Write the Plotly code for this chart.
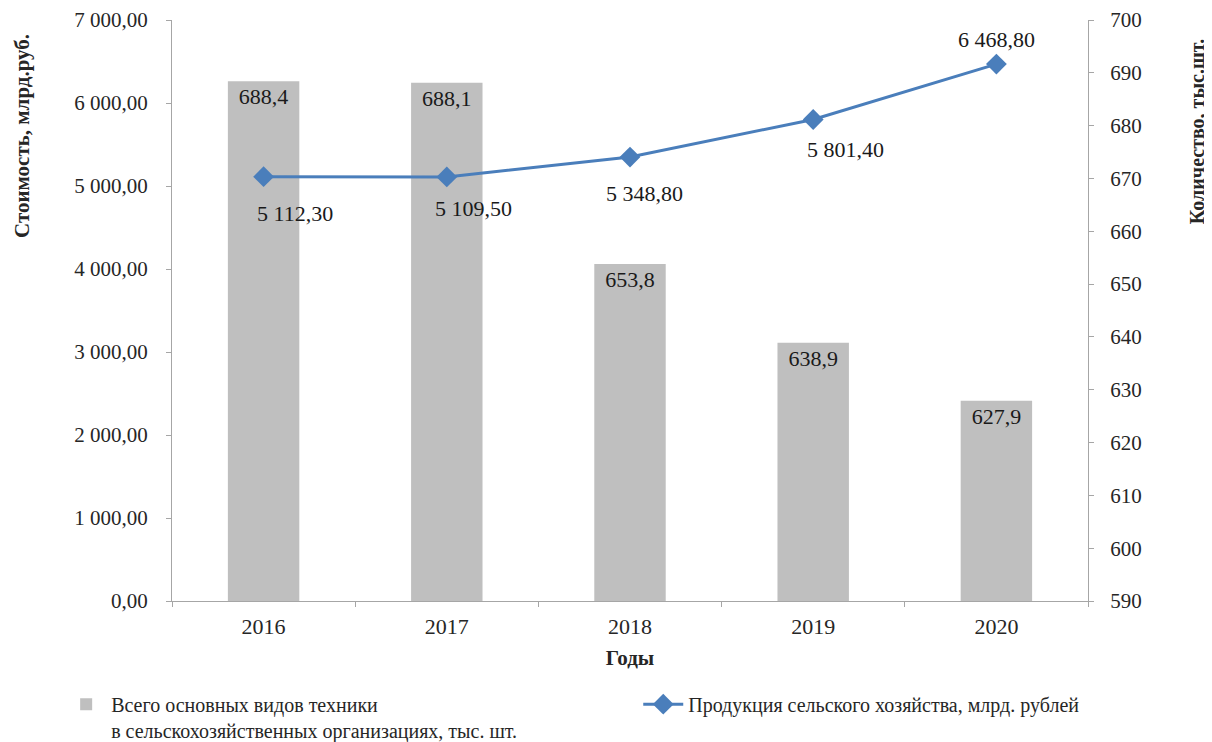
import plotly.graph_objects as go

years = ["2016", "2017", "2018", "2019", "2020"]
machinery_count = [688.4, 688.1, 653.8, 638.9, 627.9]      # тыс. шт., right axis
agri_output = [5112.30, 5109.50, 5348.80, 5801.40, 6468.80]  # млрд. руб., left axis

bar_name = "Всего основных видов техники<br>в сельскохозяйственных организациях, тыс. шт."
line_name = "Продукция сельского хозяйства, млрд. рублей"
left_title = "Стоимость, млрд.руб."
right_title = "Количество, тыс.шт."


def ru_num(v, digits):
    s = f"{v:,.{digits}f}"
    return s.replace(",", " ").replace(".", ",")


# label offsets (px) for the line values, as placed in the original
label_shift = [(31, -37), (27, -32), (14, -36), (32, -30), (0, 25)]

FONT = "Liberation Serif, Times New Roman, serif"
AXIS_COL = "#a6a6a6"
TXT_COL = "#262626"

fig = go.Figure()

fig.add_trace(go.Bar(
    x=years,
    y=machinery_count,
    name=bar_name,
    marker=dict(color="#bfbfbf", line=dict(width=0)),
    text=[ru_num(v, 1) for v in machinery_count],
    textposition="inside",
    insidetextanchor="end",
    textangle=0,
    textfont=dict(family=FONT, size=22, color="#1a1a1a"),
    yaxis="y",
    legend="legend",
))

fig.add_trace(go.Scatter(
    x=years,
    y=agri_output,
    name=line_name,
    mode="lines+markers",
    line=dict(color="#4a7ebb", width=3),
    marker=dict(symbol="diamond", size=16, color="#4a7ebb"),
    yaxis="y2",
    legend="legend2",
))

# annotations on a category axis take the category index as position
for i, (v, (dx, dy)) in enumerate(zip(agri_output, label_shift)):
    fig.add_annotation(
        x=i, y=v, xref="x", yref="y2",
        text=ru_num(v, 2), showarrow=False,
        xshift=dx, yshift=dy,
        font=dict(family=FONT, size=22, color="#1a1a1a"),
    )

# axis titles sit high on the sides, as in the original
fig.add_annotation(
    x=-0.164, y=0.80, xref="paper", yref="paper",
    xanchor="center", yanchor="middle",
    text=f"<b>{left_title}</b>", textangle=-90, showarrow=False,
    font=dict(family=FONT, size=21, color=TXT_COL),
)
fig.add_annotation(
    x=1.119, y=0.807, xref="paper", yref="paper",
    xanchor="center", yanchor="middle",
    text=f"<b>{right_title}</b>", textangle=-90, showarrow=False,
    font=dict(family=FONT, size=20, color=TXT_COL),
)

# the page body adds 8px around the plot div, so margins are trimmed by 8
fig.update_layout(
    width=1212,
    height=742,
    margin=dict(l=164, r=132, t=12, b=149, autoexpand=False),
    paper_bgcolor="white",
    plot_bgcolor="white",
    separators=", ",
    font=dict(family=FONT, size=20, color=TXT_COL),
    bargap=0.61,
    xaxis=dict(
        type="category",
        automargin=False,
        range=[-0.5, len(years) - 0.5],
        showline=True, linecolor=AXIS_COL, linewidth=1,
        ticks="outside", tickson="boundaries", ticklen=5, tickcolor=AXIS_COL,
        ticklabelstandoff=6,
        showgrid=False,
        tickfont=dict(size=22),
        title=dict(text="<b>Годы</b>", font=dict(size=21), standoff=11),
    ),
    yaxis=dict(
        side="right",
        automargin=False,
        range=[590, 700],
        dtick=10,
        showline=True, linecolor=AXIS_COL, linewidth=1,
        ticks="outside", ticklen=5, tickcolor=AXIS_COL,
        ticklabelstandoff=12,
        showgrid=False, zeroline=False,
        tickfont=dict(size=21),
    ),
    yaxis2=dict(
        side="left",
        overlaying="y",
        automargin=False,
        range=[0, 7000],
        dtick=1000,
        tickformat=",.2f",
        showline=True, linecolor=AXIS_COL, linewidth=1,
        ticks="outside", ticklen=5, tickcolor=AXIS_COL,
        ticklabelstandoff=14,
        showgrid=False, zeroline=False,
        tickfont=dict(size=21),
    ),
    legend=dict(
        x=-0.121, xanchor="left",
        y=-0.144, yanchor="top",
        font=dict(size=20, color=TXT_COL),
        itemwidth=40,
        valign="top",
        bgcolor="rgba(0,0,0,0)",
    ),
    legend2=dict(
        x=0.509, xanchor="left",
        y=-0.144, yanchor="top",
        font=dict(size=20, color=TXT_COL),
        itemwidth=40,
        valign="top",
        bgcolor="rgba(0,0,0,0)",
    ),
    showlegend=True,
)

fig.write_html("out.html")
